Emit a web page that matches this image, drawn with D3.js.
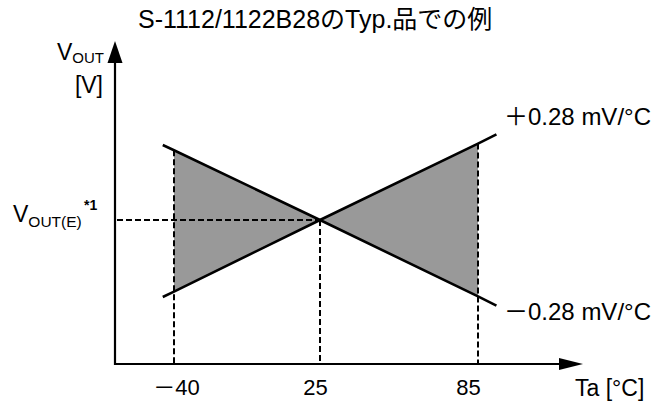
<!DOCTYPE html>
<html><head><meta charset="utf-8">
<script src="https://cdn.jsdelivr.net/npm/d3@7"></script>
<style>body{margin:0;background:#fff}svg{display:block}</style>
</head><body><svg id="c" width="654" height="403"></svg>
<script>
// ---- data ----
const titleText = "S-1112/1122B28のTyp.品での例";
const temps = [-45, -40, 25, 85, 92];                 // °C
const plusSeries = [-19.25, -17.9, 0, 19.1, 21.4];    // mV offset from VOUT(E)
const minusSeries = [18.75, 17.45, 0, -19.1, -21.4];  // mV offset from VOUT(E)
const tickTemps = [-40, 25, 85];
const tickLabels = ["－40", "25", "85"];
const seriesLabels = ["＋0.28 mV/°C", "－0.28 mV/°C"];
const bandRange = [-40, 85];

// ---- layout ----
const FONT = "'Liberation Sans', Arial, 'Noto Sans CJK JP', sans-serif";
const ox = 115, oy = 364, xTip = 583, yTip = 41;
const tickNudge = [2, -5, -10];
const svg = d3.select("#c").style("font-family", FONT);

const x = d3.scaleLinear().domain(tickTemps).range([174, 320, 478]);
const y = d3.scaleLinear().domain([-20, 20]).range([300, 140]);

const plus = temps.map((t, i) => ({t, v: plusSeries[i]}));
const minus = temps.map((t, i) => ({t, v: minusSeries[i]}));

// band
const band = temps.map((t, i) => ({t, lo: plusSeries[i], hi: minusSeries[i]}))
  .filter(d => d.t >= bandRange[0] && d.t <= bandRange[1]);
svg.append("path")
  .attr("d", d3.area().x(d => x(d.t)).y0(d => y(d.lo)).y1(d => y(d.hi))(band))
  .attr("fill", "#999999").attr("stroke", "none");

// dashed guides
const dash = "6,3";
band.forEach(d => {
  svg.append("line")
    .attr("x1", x(d.t)).attr("x2", x(d.t))
    .attr("y1", y(Math.max(d.lo, d.hi))).attr("y2", oy)
    .attr("stroke", "#000").attr("stroke-width", 2).attr("stroke-dasharray", dash);
});
svg.append("line")
  .attr("x1", ox + 2).attr("x2", x(25)).attr("y1", y(0)).attr("y2", y(0))
  .attr("stroke", "#000").attr("stroke-width", 2).attr("stroke-dasharray", dash);

// lines
const line = d3.line().x(d => x(d.t)).y(d => y(d.v));
[plus, minus].forEach(s => {
  svg.append("path").attr("d", line(s)).attr("fill", "none")
    .attr("stroke", "#000").attr("stroke-width", 2.6);
});

// axes
svg.append("line").attr("x1", ox).attr("x2", xTip - 22).attr("y1", oy).attr("y2", oy)
  .attr("stroke", "#000").attr("stroke-width", 2.2);
svg.append("path").attr("d", `M${xTip},${oy}L${xTip-24},${oy-6}L${xTip-24},${oy+6}Z`).attr("fill", "#000");
svg.append("line").attr("x1", ox).attr("x2", ox).attr("y1", oy + 1).attr("y2", yTip + 20)
  .attr("stroke", "#000").attr("stroke-width", 2.2);
svg.append("path").attr("d", `M${ox},${yTip}L${ox-7.5},${yTip+22}L${ox+7.5},${yTip+22}Z`).attr("fill", "#000");

// tick labels via axis
const ax = svg.append("g").attr("transform", `translate(0,${oy})`)
  .call(d3.axisBottom(x).tickValues(tickTemps).tickFormat((d, i) => tickLabels[i]).tickSize(0).tickPadding(15));
ax.select(".domain").remove();
ax.selectAll("text").attr("font-size", 22).attr("font-family", FONT).attr("fill", "#000")
  .attr("dx", (d, i) => tickNudge[i]);

// texts
svg.append("text").attr("x", 138).attr("y", 28).attr("font-size", 25).text(titleText);

svg.append("text").attr("x", 575).attr("y", 396).attr("font-size", 23).text("Ta [°C]");

svg.append("text").attr("x", 504).attr("y", 125).attr("font-size", 24).text(seriesLabels[0]);
svg.append("text").attr("x", 504).attr("y", 320).attr("font-size", 24).text(seriesLabels[1]);

const vout = svg.append("text").attr("x", 57).attr("y", 60).attr("font-size", 23);
vout.append("tspan").text("V");
vout.append("tspan").attr("font-size", 15).attr("dy", 3).text("OUT");
svg.append("text").attr("x", 103).attr("y", 93).attr("text-anchor", "end").attr("font-size", 23).text("[V]");

const ve = svg.append("text").attr("x", 13).attr("y", 222).attr("font-size", 23);
ve.append("tspan").text("V");
ve.append("tspan").attr("font-size", 15.5).attr("dy", 5).text("OUT(E)");
svg.append("text").attr("x", 84).attr("y", 210).attr("font-size", 14).attr("font-weight", "bold").text("*1");
</script>
</body></html>
